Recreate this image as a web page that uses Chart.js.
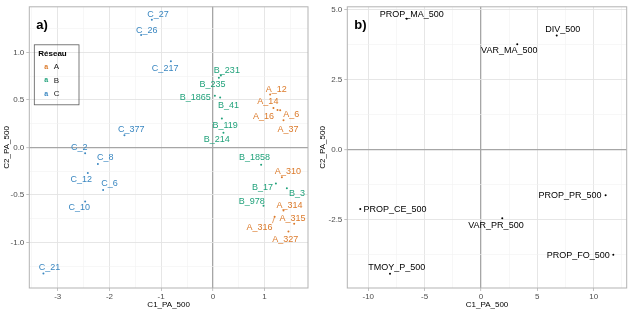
<!DOCTYPE html>
<html lang="fr">
  <head>
    <meta charset="UTF-8" />
    <title>ACP C1_PA_500 / C2_PA_500</title>
    <script src="https://cdn.jsdelivr.net/npm/chart.js"></script>
    <style>
      body {
        margin: 0;
        background: #ffffff;
      }
      .panel {
        position: absolute;
        top: 0;
        width: 316px;
        height: 314px;
      }
      #panelA {
        left: 0;
      }
      #panelB {
        left: 316px;
      }
    </style>
  </head>
  <body>
    <div class="panel" id="panelA"><canvas id="chartA" width="316" height="314"></canvas></div>
    <div class="panel" id="panelB"><canvas id="chartB" width="316" height="314"></canvas></div>

    <script>
      // sites, par réseau (coordonnées des points et de leurs étiquettes)
      const aNames = ["A_12", "A_14", "A_16", "A_6", "A_37", "A_310", "A_314", "A_315", "A_316", "A_327"];
      const aC1 = [1.108, 1.172, 1.25, 1.302, 1.366, 1.335, 1.366, 1.573, 1.195, 1.462];
      const aC2 = [0.558, 0.414, 0.393, 0.39, 0.286, -0.313, -0.665, -0.804, -0.729, -0.886];
      const aLabC1 = [1.224, 1.064, 0.979, 1.514, 1.451, 1.451, 1.482, 1.54, 0.9, 1.398];
      const aLabC2 = [0.613, 0.479, 0.324, 0.341, 0.193, -0.259, -0.607, -0.745, -0.845, -0.969];

      const bNames = ["B_231", "B_235", "B_1865", "B_41", "B_119", "B_214", "B_1858", "B_17", "B_3", "B_978"];
      const bC1 = [0.155, 0.116, 0.039, 0.141, 0.174, 0.205, 0.934, 1.219, 1.431, 0.979];
      const bC2 = [0.758, 0.734, 0.545, 0.524, 0.303, 0.155, -0.183, -0.38, -0.431, -0.613];
      const bLabC1 = [0.271, -0.008, -0.342, 0.302, 0.238, 0.077, 0.805, 0.959, 1.625, 0.754];
      const bLabC2 = [0.814, 0.662, 0.527, 0.442, 0.235, 0.086, -0.111, -0.427, -0.486, -0.569];

      const cNames = ["C_27", "C_26", "C_217", "C_377", "C_2", "C_8", "C_12", "C_6", "C_10", "C_21"];
      const cC1 = [-1.18, -1.387, -0.812, -1.71, -2.47, -2.224, -2.418, -2.122, -2.47, -3.277];
      const cC2 = [1.344, 1.182, 0.907, 0.127, -0.062, -0.176, -0.269, -0.448, -0.569, -1.327];
      const cLabC1 = [-1.06, -1.277, -0.923, -1.58, -2.586, -2.083, -2.547, -2.0, -2.586, -3.161];
      const cLabC2 = [1.403, 1.234, 0.835, 0.183, 0.003, -0.111, -0.338, -0.383, -0.634, -1.262];

      // variables
      const varNames = ["PROP_MA_500", "DIV_500", "VAR_MA_500", "PROP_CE_500", "TMOY_P_500", "VAR_PR_500", "PROP_PR_500", "PROP_FO_500"];
      const varC1 = [-6.59, 6.72, 3.22, -10.71, -8.07, 1.89, 11.06, 11.74];
      const varC2 = [4.66, 4.07, 3.75, -2.12, -4.43, -2.45, -1.63, -3.75];
      const varLabC1 = [-6.15, 7.25, 2.51, -7.63, -7.48, 1.33, 7.9, 8.63];
      const varLabC2 = [4.8, 4.28, 3.52, -2.14, -4.22, -2.7, -1.65, -3.77];

      const networks = ["A", "B", "C"];
      const netColors = ["#dc7a2a", "#21a27b", "#3a87c1"];

      const ticksAX = [-3, -2, -1, 0, 1];
      const ticksAY = [-1, -0.5, 0, 0.5, 1];
      const ticksBX = [-10, -5, 0, 5, 10];
      const ticksBY = [-2.5, 0, 2.5, 5];

      Chart.defaults.font.family = "'Liberation Sans', Arial, sans-serif";
      Chart.defaults.devicePixelRatio = 1;

      function toPoints(xs, ys) {
        return xs.map((x, i) => ({ x: x, y: ys[i] }));
      }

      // majeurs + mineurs (milieux) dans les limites
      function withMinor(major, min, max) {
        const step = major[1] - major[0];
        const all = [];
        for (let v = major[0] - step; v <= major[major.length - 1] + step + 1e-9; v += step) {
          all.push(v);
          all.push(v + step / 2);
        }
        return all.filter((v) => v >= min - 1e-9 && v <= max + 1e-9);
      }

      function isMajor(major, v) {
        return major.some((m) => Math.abs(m - v) < 1e-6);
      }

      function axis(major, min, max, digits, title, isX, size) {
        return {
          type: "linear",
          min: min,
          max: max,
          afterBuildTicks: (scale) => {
            scale.ticks = withMinor(major, min, max).map((v) => ({ value: v }));
          },
          afterFit: (scale) => {
            if (isX) scale.height = size;
            else scale.width = size;
          },
          ticks: {
            autoSkip: false,
            maxRotation: 0,
            padding: isX ? 1 : 2,
            color: "#4d4d4d",
            font: { size: 8 },
            callback: (v) => (isMajor(major, v) ? v.toFixed(digits) : ""),
          },
          grid: {
            tickLength: 3,
            color: (ctx) => {
              const v = ctx.tick.value;
              if (Math.abs(v) < 1e-9) return "#a6a6a6";
              return isMajor(major, v) ? "#e3e3e3" : "#f1f1f1";
            },
            lineWidth: (ctx) => {
              const v = ctx.tick.value;
              if (Math.abs(v) < 1e-9) return 1.3;
              return isMajor(major, v) ? 0.9 : 0.6;
            },
            tickColor: (ctx) => (isMajor(major, ctx.tick.value) ? "#b3b3b3" : "rgba(0,0,0,0)"),
            tickWidth: 0.8,
          },
          border: { display: false },
          title: {
            display: true,
            text: title,
            color: "#000000",
            font: { size: 8 },
            padding: isX ? { top: 0, bottom: 4 } : { top: 2.2, bottom: 0 },
          },
        };
      }

      // étiquettes façon ggrepel + cadre + légende + tag
      const decor = {
        id: "decor",
        afterDatasetsDraw(chart) {
          const { ctx, scales } = chart;
          ctx.save();
          ctx.font = "9px 'Liberation Sans', Arial, sans-serif";
          ctx.textAlign = "center";
          ctx.textBaseline = "middle";
          chart.data.datasets.forEach((ds) => {
            ds.names.forEach((name, i) => {
              const lx = scales.x.getPixelForValue(ds.labX[i]);
              const ly = scales.y.getPixelForValue(ds.labY[i]);
              const px = scales.x.getPixelForValue(ds.data[i].x);
              const py = scales.y.getPixelForValue(ds.data[i].y);
              const w = ctx.measureText(name).width;
              const h = 9;
              const nx = Math.max(lx - w / 2, Math.min(px, lx + w / 2));
              const ny = Math.max(ly - h / 2, Math.min(py, ly + h / 2));
              if (Math.hypot(px - nx, py - ny) > 5) {
                ctx.strokeStyle = ds.pointBackgroundColor;
                ctx.lineWidth = 0.7;
                ctx.beginPath();
                ctx.moveTo(px, py);
                ctx.lineTo(nx, ny);
                ctx.stroke();
              }
              ctx.fillStyle = ds.pointBackgroundColor;
              ctx.fillText(name, lx, ly);
            });
          });
          ctx.restore();
        },
        afterDraw(chart, args, opts) {
          const { ctx, chartArea } = chart;
          ctx.save();
          ctx.strokeStyle = "#b3b3b3";
          ctx.lineWidth = 1;
          ctx.strokeRect(chartArea.left, chartArea.top, chartArea.right - chartArea.left, chartArea.bottom - chartArea.top);

          ctx.fillStyle = "#000000";
          ctx.font = "bold 13px 'Liberation Sans', Arial, sans-serif";
          ctx.textBaseline = "middle";
          ctx.textAlign = "left";
          ctx.fillText(opts.tag, chartArea.left + 7, chartArea.top + 19);

          if (opts.legend) {
            const x0 = chartArea.left + 5;
            const y0 = chartArea.top + 38;
            ctx.strokeStyle = "#5a5a5a";
            ctx.lineWidth = 0.8;
            ctx.strokeRect(x0, y0, 44.7, 60);
            ctx.font = "bold 8px 'Liberation Sans', Arial, sans-serif";
            ctx.fillStyle = "#000000";
            ctx.fillText("Réseau", x0 + 4, y0 + 9);
            networks.forEach((n, i) => {
              const yy = y0 + 22 + i * 13.6;
              ctx.font = "bold 7px 'Liberation Sans', Arial, sans-serif";
              ctx.fillStyle = netColors[i];
              ctx.fillText("a", x0 + 10, yy);
              ctx.font = "8px 'Liberation Sans', Arial, sans-serif";
              ctx.fillStyle = "#1a1a1a";
              ctx.fillText(n, x0 + 19.5, yy);
            });
          }
          ctx.restore();
        },
      };

      function siteSet(i, xs, ys, names, labX, labY) {
        return {
          label: networks[i],
          data: toPoints(xs, ys),
          names: names,
          labX: labX,
          labY: labY,
          pointRadius: 1,
          pointBackgroundColor: netColors[i],
          pointBorderWidth: 0,
        };
      }

      new Chart(document.getElementById("chartA"), {
        type: "scatter",
        data: {
          datasets: [
            siteSet(0, aC1, aC2, aNames, aLabC1, aLabC2),
            siteSet(1, bC1, bC2, bNames, bLabC1, bLabC2),
            siteSet(2, cC1, cC2, cNames, cLabC1, cLabC2),
          ],
        },
        options: {
          responsive: false,
          animation: false,
          layout: { padding: { left: 0, right: 8, top: 2, bottom: 0 } },
          scales: {
            x: axis(ticksAX, -3.55, 1.84, 0, "C1_PA_500", true, 26),
            y: axis(ticksAY, -1.48, 1.48, 1, "C2_PA_500", false, 29.3),
          },
          plugins: {
            legend: { display: false },
            tooltip: { enabled: false },
            decor: { tag: "a)", legend: true },
          },
        },
        plugins: [decor],
      });

      new Chart(document.getElementById("chartB"), {
        type: "scatter",
        data: {
          datasets: [
            {
              label: "variables",
              data: toPoints(varC1, varC2),
              names: varNames,
              labX: varLabC1,
              labY: varLabC2,
              pointRadius: 1,
              pointBackgroundColor: "#000000",
              pointBorderWidth: 0,
            },
          ],
        },
        options: {
          responsive: false,
          animation: false,
          layout: { padding: { left: 0, right: 5.3, top: 2, bottom: 0 } },
          scales: {
            x: axis(ticksBX, -11.86, 12.93, 0, "C1_PA_500", true, 26),
            y: axis(ticksBY, -4.94, 5.09, 1, "C2_PA_500", false, 31.3),
          },
          plugins: {
            legend: { display: false },
            tooltip: { enabled: false },
            decor: { tag: "b)", legend: false },
          },
        },
        plugins: [decor],
      });
    </script>
  </body>
</html>
